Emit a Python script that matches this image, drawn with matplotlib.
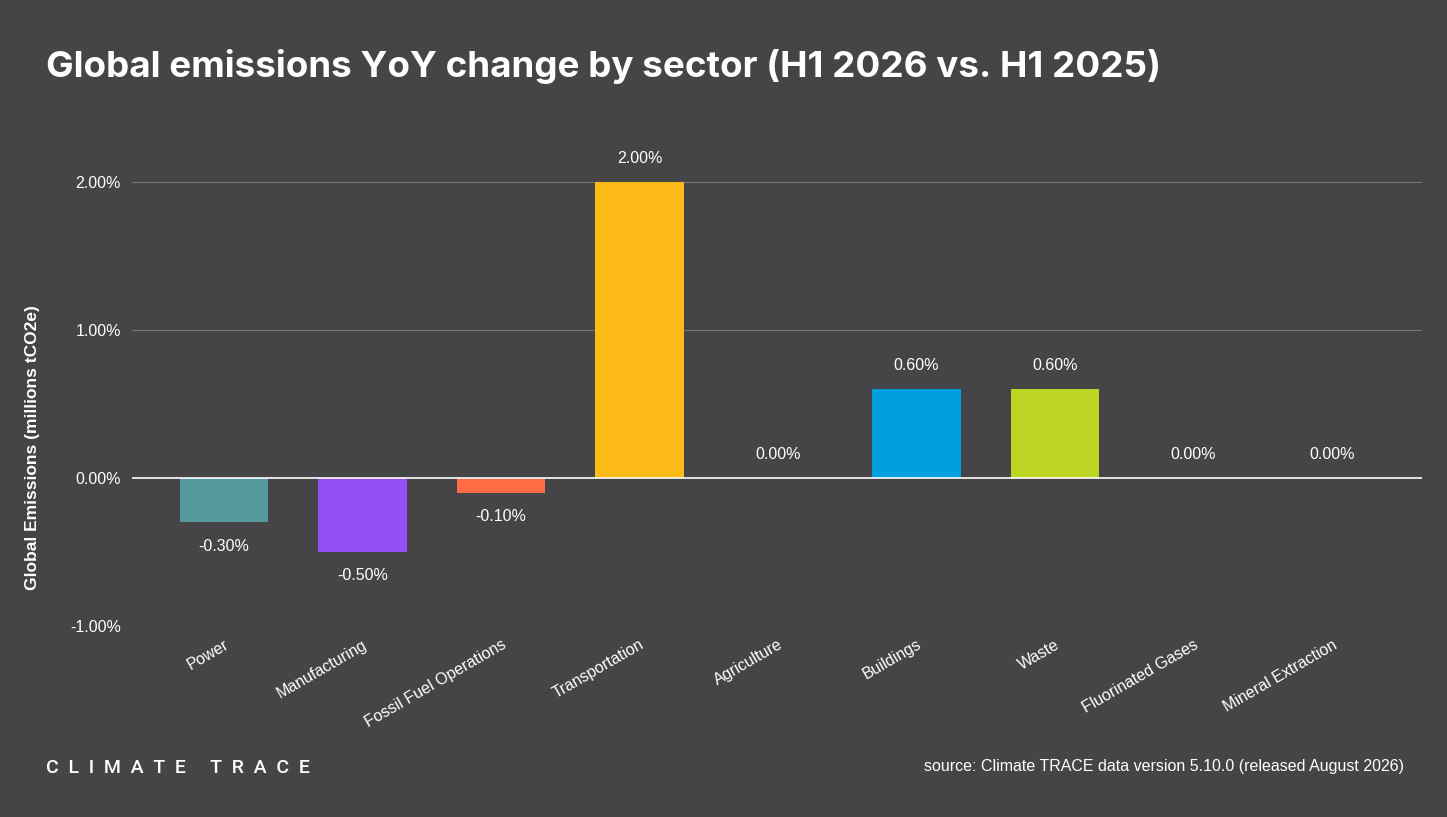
import matplotlib
matplotlib.use("Agg")
import matplotlib.pyplot as plt

categories = ["Power", "Manufacturing", "Fossil Fuel Operations", "Transportation",
              "Agriculture", "Buildings", "Waste", "Fluorinated Gases", "Mineral Extraction"]
values = [-0.30, -0.50, -0.10, 2.00, 0.00, 0.60, 0.60, 0.00, 0.00]
colors = ["#55999f", "#9450f5", "#ff6b45", "#fbba16", "#888888", "#00a0e0", "#bcd424", "#888888", "#888888"]
yticks = [-1.0, 0.0, 1.0, 2.0]

bg = "#454548"
plt.rcParams['font.family'] = ['Liberation Sans', 'DejaVu Sans']
fig = plt.figure(figsize=(14.47, 8.17), dpi=100, facecolor=bg)
ax = fig.add_axes([132/1447, 0.234, 1290/1447, 0.615], facecolor=bg)
x = list(range(len(categories)))
ax.bar(x, values, width=0.64, color=colors, zorder=3)
for xi, v in zip(x, values):
    off = 0.16 if v >= 0 else -0.16
    ax.text(xi, v + off, f"{v:.2f}%", ha="center", va="center", color="white", fontsize=11.5)
ax.set_xlim(-0.664, 8.65)
ax.set_ylim(-1.0, 2.4)
ax.set_yticks(yticks)
ax.set_yticklabels([f"{t:.2f}%" for t in yticks], color="white", fontsize=11.5)
for t in yticks:
    ax.axhline(t, color="#ffffff" if t == 0 else "#75757a", lw=1.2 if t == 0 else 0.8, zorder=4 if t == 0 else 1)
ax.set_xticks(x)
ax.set_xticklabels(categories, rotation=30, ha="right", rotation_mode="anchor", color="white", fontsize=11.5)
ax.tick_params(length=0, pad=8)
for s in ax.spines.values():
    s.set_visible(False)
ax.set_ylabel("Global Emissions (millions tCO2e)", color="white", fontsize=12.5, fontweight="bold")
ax.yaxis.set_label_coords(-0.071, 0.354)
fig.text(0.032, 0.918, "Global emissions YoY change by sector (H1 2026 vs. H1 2025)", color="white",
         fontsize=26.5, fontweight="bold", family=["Inter", "DejaVu Sans"], va="center")
fig.text(0.032, 0.06, "C  L  I  M  A  T  E     T  R  A  C  E", color="white", fontsize=14, va="center",
         family=["Roboto", "DejaVu Sans"], fontweight="medium")
fig.text(0.970, 0.062, "source: Climate TRACE data version 5.10.0 (released August 2026)", color="white",
         fontsize=11.5, ha="right", va="center")
fig.savefig("out.png", dpi=100, facecolor=bg)
